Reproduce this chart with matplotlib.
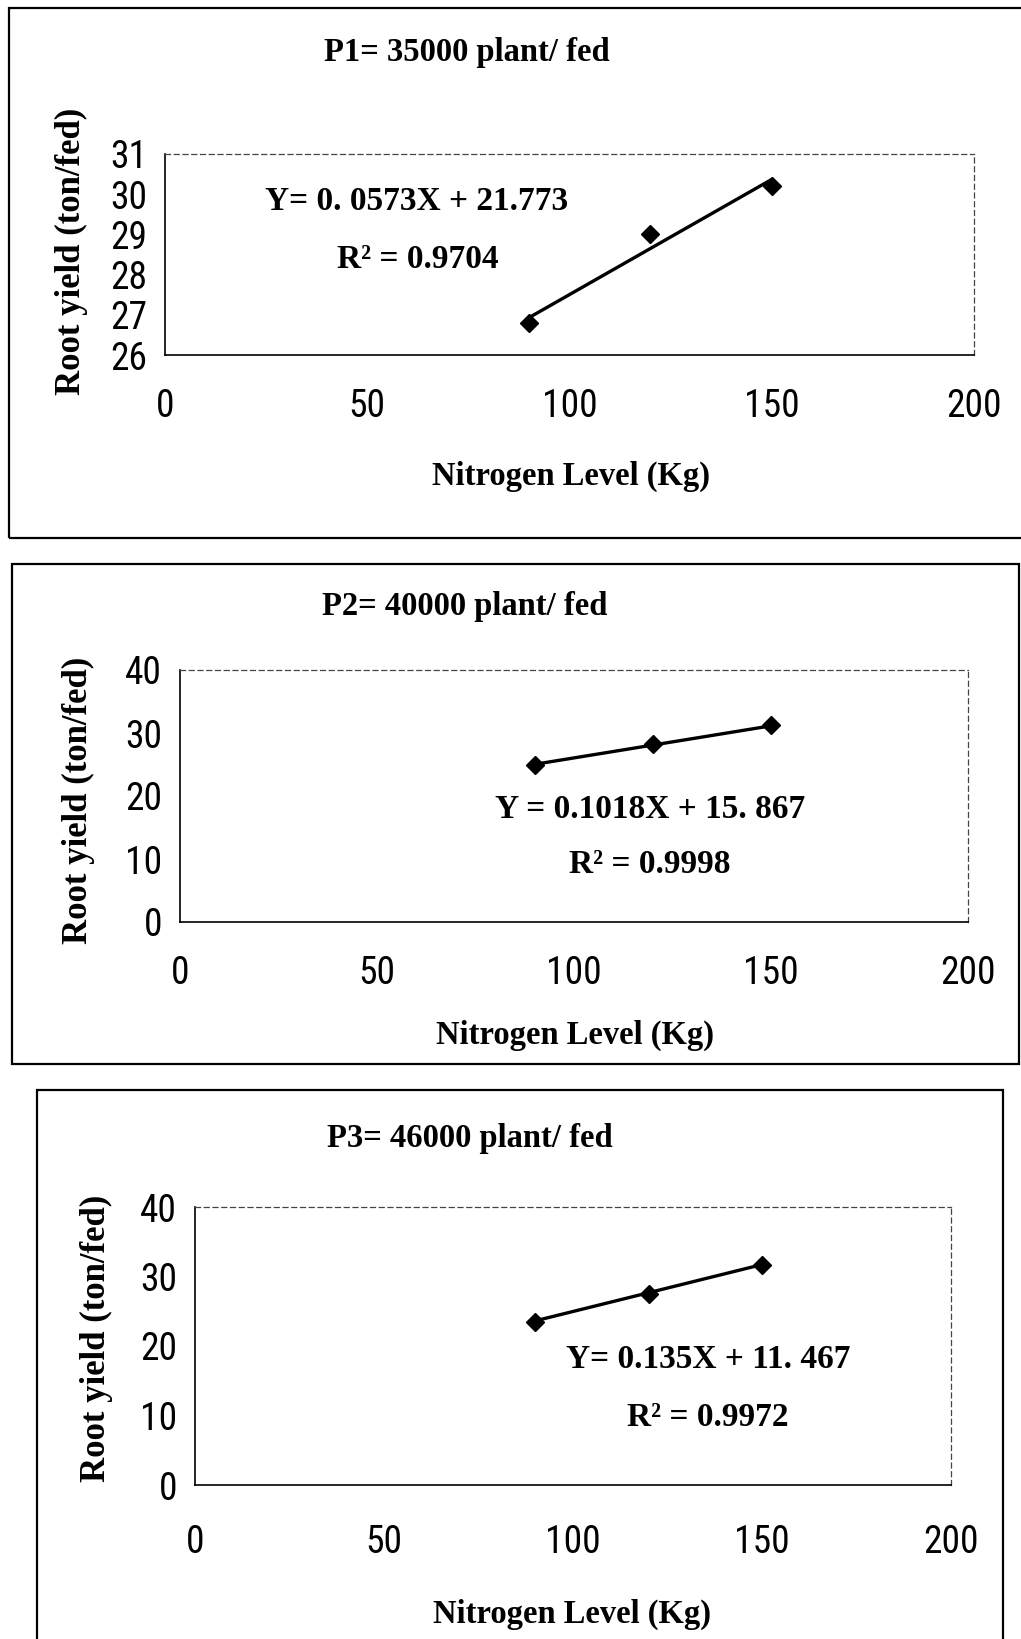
import numpy as np
import matplotlib
matplotlib.use("Agg")
import matplotlib.pyplot as plt
from matplotlib.patches import Rectangle
from matplotlib import font_manager

# data
nitrogen = [90, 120, 150]
yield_p1 = [26.8, 29.0, 30.2]
yield_p2 = [25.0, 28.2, 31.3]
yield_p3 = [23.5, 27.5, 31.6]

titles = ["P1= 35000 plant/ fed", "P2= 40000 plant/ fed", "P3= 46000 plant/ fed"]
equations = ["Y= 0. 0573X + 21.773", "Y = 0.1018X + 15. 867", "Y= 0.135X + 11. 467"]
r2_labels = ["R\u00b2 = 0.9704", "R\u00b2 = 0.9998", "R\u00b2 = 0.9972"]
slopes = [0.0573, 0.1018, 0.135]
intercepts = [21.773, 15.867, 11.467]
y_ticks = [[26, 27, 28, 29, 30, 31], [0, 10, 20, 30, 40], [0, 10, 20, 30, 40]]
x_ticks = [0, 50, 100, 150, 200]

W, H = 1021, 1639
fig = plt.figure(figsize=(W / 100, H / 100), dpi=100)
fig.patch.set_facecolor("white")

serif = ["Liberation Serif", "DejaVu Serif"]

# look for a narrow sans face for the tick numbers
have = {f.name: f.stretch for f in font_manager.fontManager.ttflist}
narrow = None
for cand in ["Liberation Sans Narrow", "Roboto Condensed", "Open Sans Condensed"]:
    if cand in have:
        narrow = cand
        break
tick_size = 27
if narrow is None:
    narrow = "DejaVu Sans"
    cond = [f for f in font_manager.fontManager.ttflist
            if f.name == "DejaVu Sans" and f.stretch == "condensed"]
    if not cond:
        narrow = "Liberation Sans"
        tick_size = 24

def fx(px):
    return px / W

def fy(py):
    return 1 - py / H

# layout per panel, in pixels of the original picture
axes_box = [(165, 974, 154, 355), (180, 968, 670, 922), (195, 951, 1207, 1485)]
outer_box = [(9, 1030, 8, 538), (12, 1019, 564, 1064), (37, 1003, 1090, 1660)]
title_pos = [(467, 52), (465, 606), (470, 1139)]
xlabel_pos = [(571, 476), (575, 1035), (572, 1614)]
ylabel_pos = [(71, 251), (78, 800), (96, 1338)]
eq_pos = [(417, 202), (650, 810), (708, 1359)]
r2_pos = [(418, 259), (650, 865), (708, 1418)]
xtick_pad = [24, 24, 28]

series = [yield_p1, yield_p2, yield_p3]

for i in range(3):
    l, r, t, b = outer_box[i]
    fig.patches.append(Rectangle((fx(l), fy(b)), fx(r - l), (b - t) / H,
                                 transform=fig.transFigure, fill=False,
                                 edgecolor="black", linewidth=1.6))

    l, r, t, b = axes_box[i]
    ax = fig.add_axes([fx(l), fy(b), fx(r - l), (b - t) / H])
    ax.set_facecolor("none")

    xs = np.array([nitrogen[0], nitrogen[-1]])
    ax.plot(xs, slopes[i] * xs + intercepts[i], color="black", lw=2.4, zorder=3)
    ax.plot(nitrogen, series[i], linestyle="none", marker="D", markersize=9,
            color="black", zorder=4)

    yt = y_ticks[i]
    ax.set_xlim(0, 200)
    ax.set_ylim(yt[0], yt[-1])
    ax.set_xticks(x_ticks)
    ax.set_yticks(yt)
    ax.tick_params(length=0, labelsize=tick_size)
    ax.tick_params(axis="x", pad=xtick_pad[i])
    ax.tick_params(axis="y", pad=13)
    for lab in ax.get_xticklabels() + ax.get_yticklabels():
        lab.set_family(narrow)
        lab.set_stretch("condensed")

    for s in ["left", "bottom"]:
        ax.spines[s].set_linewidth(1.2)
        ax.spines[s].set_color("black")
    for s in ["top", "right"]:
        ax.spines[s].set_linewidth(0.9)
        ax.spines[s].set_color("#444444")
        ax.spines[s].set_linestyle((0, (4, 3)))

    ax.text(fx(eq_pos[i][0]), fy(eq_pos[i][1]), equations[i], transform=fig.transFigure,
            ha="center", va="center", family=serif, weight="bold", fontsize=24)
    ax.text(fx(r2_pos[i][0]), fy(r2_pos[i][1]), r2_labels[i], transform=fig.transFigure,
            ha="center", va="center", family=serif, weight="bold", fontsize=24)

    fig.text(fx(title_pos[i][0]), fy(title_pos[i][1]), titles[i], ha="center", va="center",
             family=serif, weight="bold", fontsize=23.5)
    fig.text(fx(xlabel_pos[i][0]), fy(xlabel_pos[i][1]), "Nitrogen Level (Kg)", ha="center",
             va="center", family=serif, weight="bold", fontsize=23.5)
    fig.text(fx(ylabel_pos[i][0]), fy(ylabel_pos[i][1]), "Root yield (ton/fed)", ha="center",
             va="center", rotation=90, family=serif, weight="bold", fontsize=25)

fig.savefig("out.png", dpi=100)
